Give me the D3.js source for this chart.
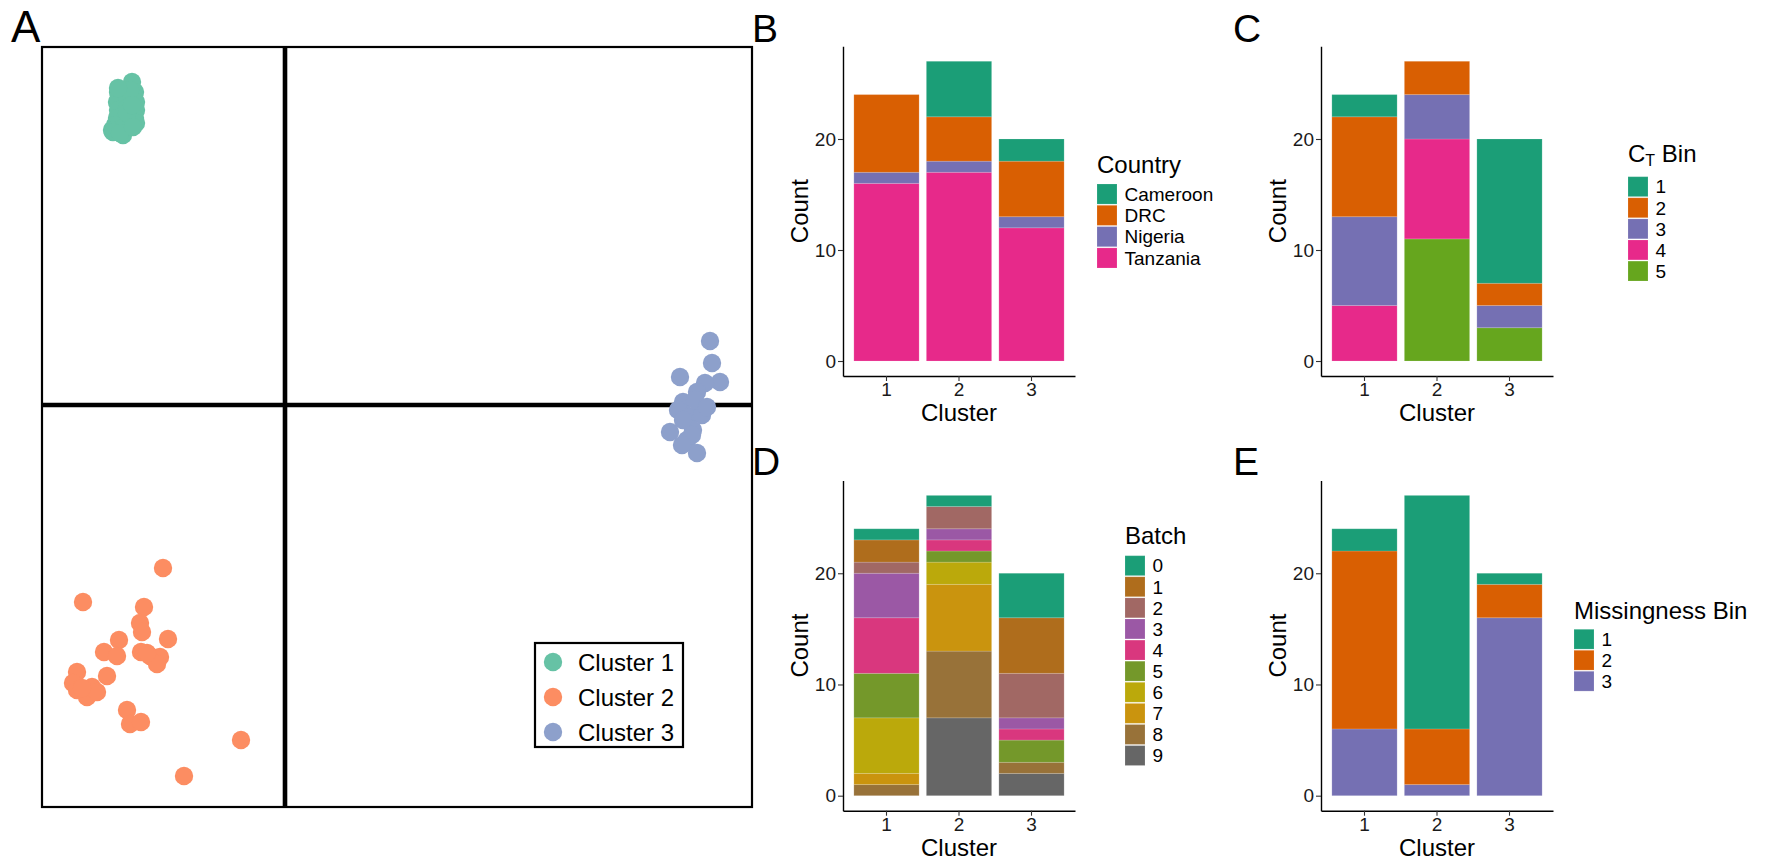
<!DOCTYPE html>
<html>
<head>
<meta charset="utf-8">
<script src="https://cdn.jsdelivr.net/npm/d3@7/dist/d3.min.js"></script>
<style>
  html, body { margin: 0; padding: 0; background: #ffffff; }
  svg { display: block; }
</style>
</head>
<body>
<svg id="fig" width="1768" height="860"></svg>
<script>
// ---------- Panel A: sample coordinates (first two components) ----------
const clusterNames = ["Cluster 1", "Cluster 2", "Cluster 3"];
const clusterOnePoints = [
  [-1.53, 3.23], [-1.67, 3.13], [-1.50, 3.13], [-1.68, 3.03], [-1.49, 3.03], [-1.58, 3.08],
  [-1.67, 2.95], [-1.49, 2.95], [-1.58, 2.97], [-1.68, 2.87], [-1.50, 2.87], [-1.60, 2.85],
  [-1.49, 2.82], [-1.70, 2.80], [-1.73, 2.75], [-1.62, 2.77], [-1.62, 2.70], [-1.72, 2.73],
  [-1.55, 3.15], [-1.58, 2.92], [-1.65, 2.72], [-1.53, 3.00], [-1.67, 3.17], [-1.52, 2.78]
];
const clusterTwoPoints = [
  [-1.22, -1.63], [-2.02, -1.97], [-1.41, -2.02], [-1.45, -2.18], [-1.43, -2.27], [-1.17, -2.34],
  [-1.66, -2.35], [-1.81, -2.47], [-1.68, -2.51], [-1.44, -2.47], [-1.35, -2.51], [-1.25, -2.52],
  [-1.28, -2.59], [-2.08, -2.67], [-1.78, -2.71], [-2.12, -2.78], [-2.08, -2.85], [-1.98, -2.92],
  [-1.93, -2.82], [-1.88, -2.87], [-1.58, -3.05], [-1.55, -3.19], [-1.44, -3.17], [-0.44, -3.35],
  [-1.01, -3.71], [-1.38, -2.48], [-2.03, -2.83]
];
const clusterThreePoints = [
  [4.25, 0.64], [4.27, 0.42], [4.35, 0.23], [3.95, 0.28], [4.20, 0.22], [4.12, 0.13],
  [3.98, 0.03], [3.93, -0.05], [4.15, -0.05], [4.05, -0.12], [4.17, -0.10], [3.85, -0.27],
  [4.08, -0.25], [4.02, -0.35], [4.12, -0.48], [3.98, -0.15], [4.10, 0.05], [4.07, -0.30],
  [3.97, -0.40], [4.22, -0.02]
];
const pc1Domain = [-2.43, 4.67];
const pc2Domain = [-4.02, 3.58];

// ---------- Panels B-E: counts per cluster (rows = levels, columns = clusters 1..3) ----------
const clusterLabels = ["1", "2", "3"];

const countryLevels = ["Cameroon", "DRC", "Nigeria", "Tanzania"];
const countryCounts = [[0, 5, 2], [7, 4, 5], [1, 1, 1], [16, 17, 12]];

const ctBinLevels = ["1", "2", "3", "4", "5"];
const ctBinCounts = [[2, 0, 13], [9, 3, 2], [8, 4, 2], [5, 9, 0], [0, 11, 3]];

const batchLevels = ["0", "1", "2", "3", "4", "5", "6", "7", "8", "9"];
const batchCounts = [
  [1, 1, 4], [2, 0, 5], [1, 2, 4], [4, 1, 1], [5, 1, 1],
  [4, 1, 2], [5, 2, 0], [1, 6, 0], [1, 6, 1], [0, 7, 2]
];

const missLevels = ["1", "2", "3"];
const missCounts = [[2, 21, 1], [16, 5, 3], [6, 1, 16]];

const countTicks = [0, 10, 20];

// ---------- Palettes ----------
const set2 = ["#66C2A5", "#FC8D62", "#8DA0CB"];
const dark2 = ["#1B9E77", "#D95F02", "#7570B3", "#E7298A", "#66A61E", "#E6AB02", "#A6761D", "#666666"];
const batchPalette = ["#1B9E77", "#AF6D1C", "#A16864", "#9B58A5", "#D9377E",
                      "#74982A", "#BBA90B", "#CA940E", "#987239", "#666666"];

const FONT = "'Liberation Sans', Arial, Helvetica, sans-serif";
const svg = d3.select("#fig");
svg.append("rect").attr("width", 1768).attr("height", 860).attr("fill", "#ffffff");

function letter(txt, x, y, size) {
  svg.append("text").attr("x", x).attr("y", y)
    .attr("font-family", FONT).attr("font-size", size).attr("fill", "#000")
    .text(txt);
}

// ---------- Panel A ----------
(function drawScatter() {
  const box = { left: 42, right: 752, top: 47, bottom: 807 };
  const x = d3.scaleLinear().domain(pc1Domain).range([box.left, box.right]);
  const y = d3.scaleLinear().domain(pc2Domain).range([box.bottom, box.top]);
  const g = svg.append("g");

  // reference lines through the origin
  g.append("line").attr("x1", x(0)).attr("x2", x(0)).attr("y1", box.top).attr("y2", box.bottom)
    .attr("stroke", "#000").attr("stroke-width", 4.6);
  g.append("line").attr("x1", box.left).attr("x2", box.right).attr("y1", y(0)).attr("y2", y(0))
    .attr("stroke", "#000").attr("stroke-width", 4.6);

  const groups = [clusterOnePoints, clusterTwoPoints, clusterThreePoints];
  groups.forEach((pts, i) => {
    g.append("g").selectAll("circle").data(pts).join("circle")
      .attr("cx", d => x(d[0])).attr("cy", d => y(d[1])).attr("r", 9.2)
      .attr("fill", set2[i]);
  });

  g.append("rect").attr("x", box.left).attr("y", box.top)
    .attr("width", box.right - box.left).attr("height", box.bottom - box.top)
    .attr("fill", "none").attr("stroke", "#000").attr("stroke-width", 2.2);

  // legend
  const lg = g.append("g");
  lg.append("rect").attr("x", 535).attr("y", 643).attr("width", 148).attr("height", 104)
    .attr("fill", "#fff").attr("stroke", "#000").attr("stroke-width", 2.2);
  clusterNames.forEach((name, i) => {
    const cy = 662 + i * 35;
    lg.append("circle").attr("cx", 553).attr("cy", cy).attr("r", 9.2).attr("fill", set2[i]);
    lg.append("text").attr("x", 578).attr("y", cy).attr("dy", "0.36em")
      .attr("font-family", FONT).attr("font-size", 24).attr("fill", "#000").text(name);
  });
})();
letter("A", 11, 42, 44);

// ---------- Stacked bar panels ----------
function drawStacked(cfg) {
  const { levels, counts, colors, left, right, top, bottom } = cfg;
  const rows = clusterLabels.map((c, j) => {
    const o = { cluster: c };
    levels.forEach((l, i) => { o[l] = counts[i][j]; });
    return o;
  });
  // first level is stacked on top, last level at the bottom
  const series = d3.stack().keys(levels.slice().reverse())(rows);
  const maxTotal = d3.max(rows, r => d3.sum(levels, l => r[l]));
  const color = d3.scaleOrdinal().domain(levels).range(colors);

  const x = d3.scaleBand().domain(clusterLabels).range([left, right])
    .paddingInner(0.1).paddingOuter(0.15);
  const y = d3.scaleLinear().domain([-0.05 * maxTotal, 1.05 * maxTotal]).range([bottom, top]);

  const g = svg.append("g");
  series.forEach(s => {
    g.append("g").selectAll("rect").data(s.filter(d => d[1] - d[0] > 0)).join("rect")
      .attr("x", d => x(d.data.cluster)).attr("width", x.bandwidth())
      .attr("y", d => y(d[1])).attr("height", d => y(d[0]) - y(d[1]))
      .attr("fill", color(s.key))
      .attr("stroke", "#ffffff").attr("stroke-opacity", 0.15).attr("stroke-width", 1);
  });

  const styleAxis = a => {
    a.select(".domain").attr("stroke", "#000").attr("stroke-width", 1.4);
    a.selectAll(".tick line").attr("stroke", "#333").attr("stroke-width", 1.1);
    a.selectAll(".tick text").attr("font-family", FONT).attr("font-size", 19).attr("fill", "#1a1a1a");
    a.attr("font-family", null).attr("font-size", null);
  };
  g.append("g").attr("transform", `translate(0,${bottom})`)
    .call(d3.axisBottom(x).tickSize(5).tickPadding(2).tickSizeOuter(0)).call(styleAxis);
  g.append("g").attr("transform", `translate(${left},0)`)
    .call(d3.axisLeft(y).tickValues(countTicks).tickSize(5).tickPadding(2).tickSizeOuter(0)).call(styleAxis);

  // axis titles
  g.append("text").attr("transform", `translate(${left - 35},${(top + bottom) / 2}) rotate(-90)`)
    .attr("text-anchor", "middle").attr("font-family", FONT).attr("font-size", 24).attr("fill", "#000")
    .text("Count");
  g.append("text").attr("x", (left + right) / 2).attr("y", bottom + 45)
    .attr("text-anchor", "middle").attr("font-family", FONT).attr("font-size", 24).attr("fill", "#000")
    .text("Cluster");

  // legend
  const lg = g.append("g");
  const t = lg.append("text").attr("x", cfg.legendX).attr("y", cfg.titleY)
    .attr("font-family", FONT).attr("font-size", 24).attr("fill", "#000");
  if (cfg.titleSub) {
    t.append("tspan").text(cfg.title);
    t.append("tspan").attr("font-size", 16).attr("dy", 4).text(cfg.titleSub);
    t.append("tspan").attr("dy", -4).text(cfg.titleRest);
  } else {
    t.text(cfg.title);
  }
  levels.forEach((l, i) => {
    const ky = cfg.keyTop + i * cfg.keyStep;
    lg.append("rect").attr("x", cfg.legendX).attr("y", ky).attr("width", 20).attr("height", cfg.keyStep - 1.2)
      .attr("fill", color(l)).attr("stroke", "#ffffff").attr("stroke-opacity", 0.15).attr("stroke-width", 1);
    lg.append("text").attr("x", cfg.legendX + 27.5).attr("y", ky + (cfg.keyStep - 1.2) / 2).attr("dy", "0.36em")
      .attr("font-family", FONT).attr("font-size", 19).attr("fill", "#000").text(l);
  });
}

drawStacked({
  levels: countryLevels, counts: countryCounts, colors: dark2.slice(0, 4),
  left: 843, right: 1075, top: 46.3, bottom: 376,
  legendX: 1097, title: "Country", titleY: 173, keyTop: 184, keyStep: 21.3
});
drawStacked({
  levels: ctBinLevels, counts: ctBinCounts, colors: dark2.slice(0, 5),
  left: 1321, right: 1553, top: 46.3, bottom: 376,
  legendX: 1628, title: "C", titleSub: "T", titleRest: " Bin", titleY: 161.7, keyTop: 176.7, keyStep: 21.1
});
drawStacked({
  levels: batchLevels, counts: batchCounts, colors: batchPalette,
  left: 843, right: 1075, top: 480.4, bottom: 810.7,
  legendX: 1125, title: "Batch", titleY: 544.3, keyTop: 555.7, keyStep: 21.1
});
drawStacked({
  levels: missLevels, counts: missCounts, colors: dark2.slice(0, 3),
  left: 1321, right: 1553, top: 480.4, bottom: 810.7,
  legendX: 1574, title: "Missingness Bin", titleY: 619, keyTop: 629.3, keyStep: 21
});

letter("B", 752, 42, 39);
letter("C", 1233, 42, 39);
letter("D", 752, 475, 39);
letter("E", 1233, 475, 39);
</script>
</body>
</html>
